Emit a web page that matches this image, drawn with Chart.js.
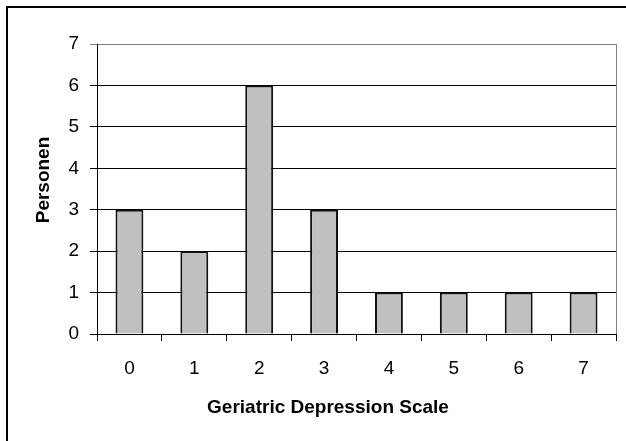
<!DOCTYPE html>
<html>
<head>
<meta charset="utf-8">
<script src="https://cdn.jsdelivr.net/npm/chart.js@4/dist/chart.umd.min.js"></script>
<style>
html,body{margin:0;padding:0;background:#fff;}
#wrap{width:626px;height:441px;position:relative;}
</style>
</head>
<body>
<div id="wrap"><canvas id="c" width="626" height="441"></canvas></div>
<script>
const categories = ['0','1','2','3','4','5','6','7'];
const persons = [3, 2, 6, 3, 1, 1, 1, 1];
const yTicks = [0, 1, 2, 3, 4, 5, 6, 7];
const xTitle = 'Geriatric Depression Scale';
const yTitle = 'Personen';

const FONT = 'Arial, "Liberation Sans", sans-serif';

const decor = {
  id: 'decor',
  beforeDatasetsDraw(chart) {
    const ctx = chart.ctx, a = chart.chartArea;
    ctx.save();
    ctx.strokeStyle = '#808080';
    ctx.lineWidth = 1;
    ctx.beginPath();
    ctx.moveTo(Math.round(a.right) + 0.5, a.top);
    ctx.lineTo(Math.round(a.right) + 0.5, a.bottom);
    ctx.stroke();
    ctx.restore();
  },
  afterDraw(chart) {
    const ctx = chart.ctx;
    ctx.save();
    ctx.strokeStyle = '#000';
    ctx.lineWidth = 2;
    ctx.beginPath();
    ctx.moveTo(7, 441);
    ctx.lineTo(7, 7);
    ctx.lineTo(626, 7);
    ctx.stroke();
    ctx.fillStyle = '#000';
    ctx.font = 'bold 19px ' + FONT;
    ctx.textAlign = 'center';
    ctx.textBaseline = 'middle';
    ctx.fillText(xTitle, 328, 408);
    ctx.translate(44, 180);
    ctx.rotate(-Math.PI / 2);
    ctx.fillText(yTitle, 0, 0);
    ctx.restore();
  }
};

new Chart(document.getElementById('c'), {
  type: 'bar',
  data: {
    labels: categories,
    datasets: [{
      data: persons,
      backgroundColor: '#c0c0c0',
      borderColor: '#111',
      borderWidth: 2,
      categoryPercentage: 1,
      barPercentage: 0.43
    }]
  },
  options: {
    responsive: false,
    animation: false,
    events: [],
    layout: { padding: { top: 44, right: 10, left: 0, bottom: 0 } },
    plugins: { legend: { display: false }, tooltip: { enabled: false } },
    scales: {
      x: {
        offset: true,
        grid: { offset: true, drawOnChartArea: false, drawTicks: true, tickLength: 7, color: '#000', lineWidth: 1 },
        border: { display: true, color: '#000', width: 1 },
        ticks: { color: '#000', font: { family: FONT, size: 19 }, padding: 16, maxRotation: 0 },
        afterFit(s) { s.height = 107; }
      },
      y: {
        min: 0, max: 7,
        afterBuildTicks(s) { s.ticks = yTicks.map(v => ({ value: v })); },
        grid: {
          color: ctx => (ctx.tick && ctx.tick.value === 7) ? '#808080' : '#000',
          lineWidth: 1, drawTicks: true, tickLength: 7
        },
        border: { display: true, color: '#000', width: 1 },
        ticks: { color: '#000', font: { family: FONT, size: 19 }, padding: 11 },
        afterFit(s) { s.width = 97; }
      }
    }
  },
  plugins: [decor]
});
</script>
</body>
</html>
